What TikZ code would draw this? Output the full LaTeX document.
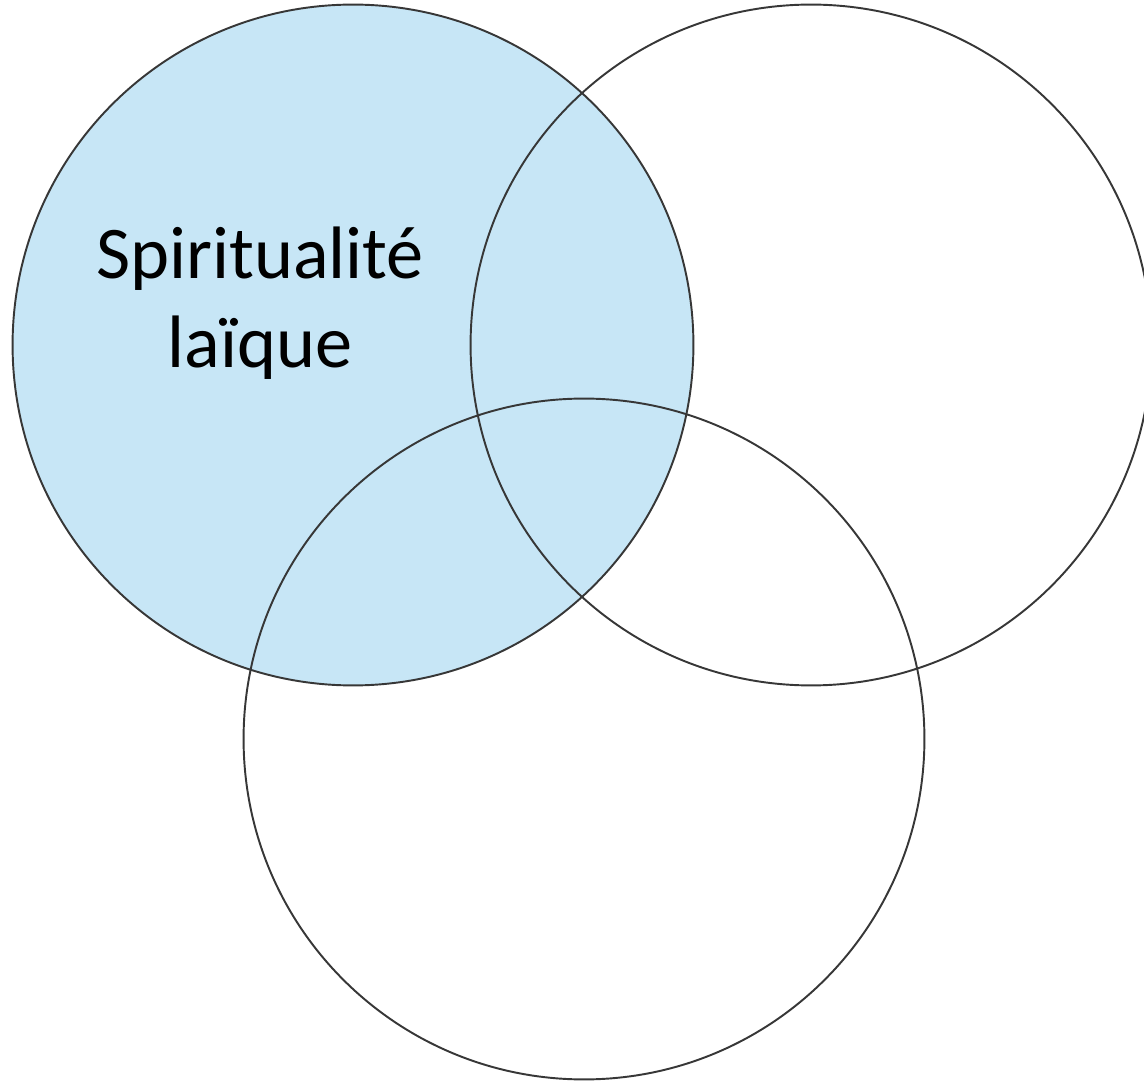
\documentclass[tikz,border=0pt]{standalone}
\usepackage{fontspec}
\setmainfont{Carlito}
\usepackage{xcolor}
\usepackage{tikz}
\definecolor{paleblue}{RGB}{199,230,246}
\definecolor{rimgray}{RGB}{55,55,55}

\begin{document}
\begin{tikzpicture}[
  x=0.02cm, y=-0.02cm,
  ring/.style={circle, draw=rimgray, line width=1.1pt, minimum size=13.62cm, inner sep=0pt},
  lab/.style={font=\fontsize{42.3}{51}\selectfont, align=center, text=black}
]
\useasboundingbox (0,0) rectangle (1144,1084);
\node[ring, fill=paleblue] (laic) at (353,345) {};
\node[ring] (right) at (811,345) {};
\node[ring] (bottom) at (584,739) {};
\node[lab, anchor=base] (title) at (260,368) {Spiritualité\\ laïque};
\end{tikzpicture}
\end{document}
